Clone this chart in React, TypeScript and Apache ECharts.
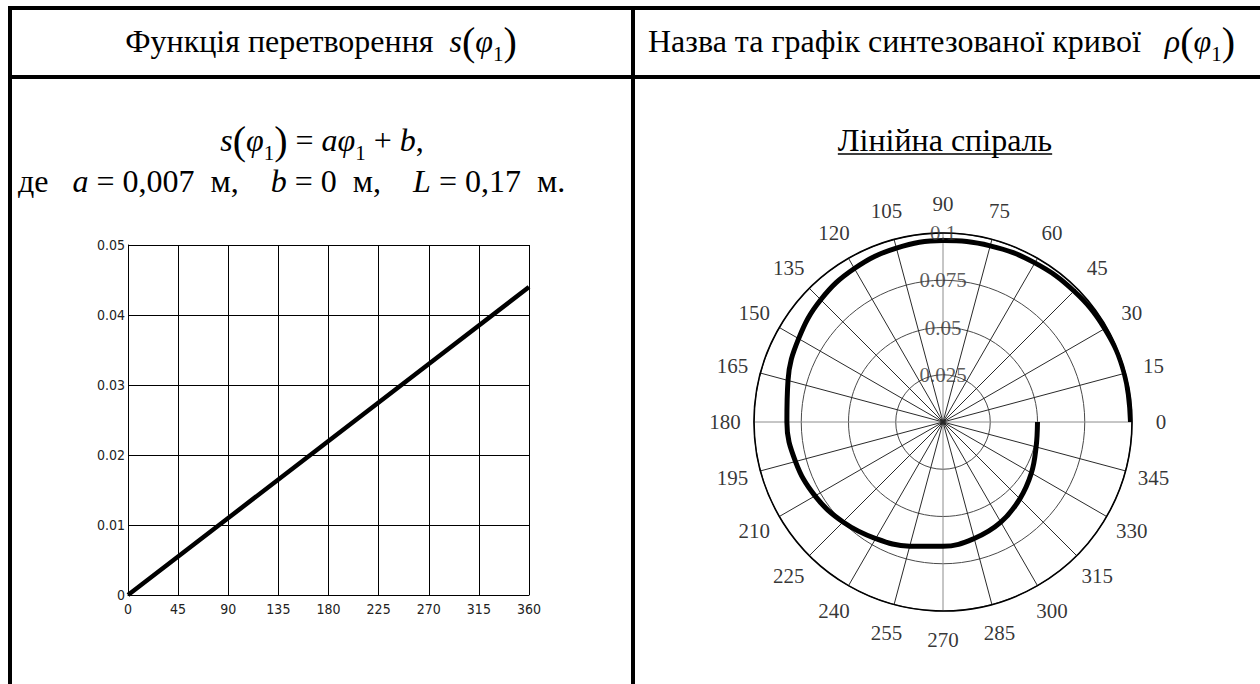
import React, { useEffect, useRef } from "react";
import * as echarts from "echarts";

// s(φ1) transfer function, angle in degrees vs displacement in metres
const sAngle = [0, 90, 180, 270, 360];
const sValue = [0, 0.011, 0.022, 0.033, 0.044];

// synthesized curve ρ(φ1): polar angle (deg) and radius (m), inner end first
const spiralAngle = [360, 345, 330, 315, 300, 285, 270, 255, 240, 225, 210, 195, 180, 165, 150, 135, 120, 105, 90, 75, 60, 45, 30, 15, 0];
const spiralRho = [0.05, 0.051, 0.054, 0.0575, 0.0612, 0.0638, 0.0658, 0.068, 0.0712, 0.0748, 0.0782, 0.0808, 0.0826, 0.0849, 0.0882, 0.0915, 0.0938, 0.0953, 0.096, 0.0965, 0.0972, 0.098, 0.0988, 0.0993, 0.0992];

// polar tick labels
const angleTicks = [0, 15, 30, 45, 60, 75, 90, 105, 120, 135, 150, 165, 180, 195, 210, 225, 240, 255, 270, 285, 300, 315, 330, 345];
const radiusTicks = [0.025, 0.05, 0.075, 0.1];

const SERIF = '"Liberation Serif", "Times New Roman", serif';
const SANS = '"DejaVu Sans Condensed", "Liberation Sans Narrow", "DejaVu Sans", sans-serif';

const POLAR_CENTER = [943, 422];
const POLAR_RADIUS = 189;
const RADIUS_MAX = 0.1;
// angle labels sit a little outside the rim
const ANGLE_LABEL_R = RADIUS_MAX * (218 / POLAR_RADIUS);

const TEXT_SIZE = 32;

const mathRich = (size: number, lh: number) => ({
  t: { fontFamily: SERIF, fontSize: size, lineHeight: lh, fill: "#000" },
  i: { fontFamily: SERIF, fontSize: size, fontStyle: "italic", lineHeight: lh, fill: "#000" },
  p: { fontFamily: SERIF, fontSize: Math.round(size * 1.25), lineHeight: lh, fill: "#000" },
  s: { fontFamily: SERIF, fontSize: Math.round(size * 0.66), lineHeight: Math.round(size * 0.66), verticalAlign: "bottom", fill: "#000" },
});

function textWidth(text: string, font: string) {
  const c = document.createElement("canvas").getContext("2d");
  if (!c) return text.length * 14;
  c.font = font;
  return c.measureText(text).width;
}

export default function App() {
  const ref = useRef<HTMLDivElement>(null);

  useEffect(() => {
    if (!ref.current) return;
    const chart = echarts.init(ref.current, null, { renderer: "svg" });

    const titleText = "Лінійна спіраль";
    const titleW = textWidth(titleText, `${TEXT_SIZE}px ${SERIF}`);
    const titleX = 945;
    const titleY = 140;

    const axisLabelStyle = { color: "#222", fontFamily: SANS, fontSize: 14 };
    const rich = mathRich(TEXT_SIZE, 46);

    chart.setOption({
      animation: false,
      backgroundColor: "#fff",
      grid: { left: 128, top: 245, width: 401, height: 350, containLabel: false },
      xAxis: {
        type: "value",
        min: 0,
        max: 360,
        interval: 45,
        axisLine: { show: true, onZero: false, lineStyle: { color: "#000", width: 1 } },
        axisTick: { show: false },
        axisLabel: { ...axisLabelStyle, margin: 7 },
        splitLine: { show: true, lineStyle: { color: "#000", width: 1 } },
      },
      yAxis: {
        type: "value",
        min: 0,
        max: 0.05,
        interval: 0.01,
        axisLine: { show: true, onZero: false, lineStyle: { color: "#000", width: 1 } },
        axisTick: { show: false },
        axisLabel: {
          ...axisLabelStyle,
          margin: 3,
          formatter: (v: number) => (v === 0 ? "0" : v.toFixed(2)),
        },
        splitLine: { show: true, lineStyle: { color: "#000", width: 1 } },
      },
      polar: { center: POLAR_CENTER, radius: POLAR_RADIUS },
      angleAxis: {
        type: "value",
        min: 0,
        max: 360,
        interval: 15,
        startAngle: 0,
        clockwise: false,
        axisLine: { show: true, lineStyle: { color: "#000", width: 1.6 } },
        axisTick: { show: false },
        axisLabel: { show: false },
        splitLine: {
          show: true,
          lineStyle: { color: ["#8c8c8c", "#2a2a2a", "#2a2a2a", "#2a2a2a", "#2a2a2a", "#2a2a2a"], width: 1 },
        },
      },
      radiusAxis: {
        type: "value",
        min: 0,
        max: RADIUS_MAX,
        interval: 0.025,
        axisLine: { show: false },
        axisTick: { show: false },
        axisLabel: { show: false },
        splitLine: { show: true, lineStyle: { color: "#4a4a4a", width: 1 } },
      },
      series: [
        {
          type: "line",
          data: sAngle.map((a, i) => [a, sValue[i]]),
          symbol: "none",
          lineStyle: { color: "#000", width: 4.5 },
          z: 3,
        },
        {
          type: "line",
          coordinateSystem: "polar",
          data: spiralAngle.map((a, i) => [spiralRho[i], a]),
          smooth: 0.4,
          symbol: "none",
          lineStyle: { color: "#000", width: 5 },
          z: 3,
        },
        {
          type: "scatter",
          coordinateSystem: "polar",
          clip: false,
          silent: true,
          symbolSize: 1,
          itemStyle: { color: "rgba(0,0,0,0)" },
          data: angleTicks.map((a) => [ANGLE_LABEL_R, a]),
          label: {
            show: true,
            position: "inside",
            formatter: (p: any) => String(p.value[1]),
            fontFamily: SERIF,
            fontSize: 21,
            color: "#000",
          },
          z: 4,
        },
        {
          type: "scatter",
          coordinateSystem: "polar",
          clip: false,
          silent: true,
          symbolSize: 1,
          itemStyle: { color: "rgba(0,0,0,0)" },
          data: radiusTicks.map((r) => [r, 90]),
          label: {
            show: true,
            position: "inside",
            formatter: (p: any) => String(p.value[0]),
            fontFamily: SERIF,
            fontSize: 21,
            color: "#333",
          },
          z: 4,
        },
      ],
      graphic: [
        // table rules
        { type: "rect", shape: { x: 8, y: 6, width: 1260, height: 4 }, style: { fill: "#000" } },
        { type: "rect", shape: { x: 8, y: 75, width: 1260, height: 4 }, style: { fill: "#000" } },
        { type: "rect", shape: { x: 8, y: 6, width: 4, height: 690 }, style: { fill: "#000" } },
        { type: "rect", shape: { x: 631, y: 6, width: 4, height: 690 }, style: { fill: "#000" } },
        // column headers
        {
          type: "text",
          x: 321,
          y: 41,
          style: {
            text: "{t|Функція перетворення  }{i|s}{p|(}{i|φ}{s|1}{p|)}",
            align: "center",
            verticalAlign: "middle",
            rich,
          },
        },
        {
          type: "text",
          x: 648,
          y: 41,
          style: {
            text: "{t|Назва та графік синтезованої кривої   }{i|ρ}{p|(}{i|φ}{s|1}{p|)}",
            align: "left",
            verticalAlign: "middle",
            rich,
          },
        },
        // formula
        {
          type: "text",
          x: 322,
          y: 140,
          style: {
            text: "{i|s}{p|(}{i|φ}{s|1}{p|)}{t| = }{i|aφ}{s|1}{t| + }{i|b}{t|,}",
            align: "center",
            verticalAlign: "middle",
            rich,
          },
        },
        {
          type: "text",
          x: 18,
          y: 181,
          style: {
            text: "{t|де   }{i|a}{t| = 0,007  м,    }{i|b}{t| = 0  м,    }{i|L}{t| = 0,17  м.}",
            align: "left",
            verticalAlign: "middle",
            rich,
          },
        },
        // curve name, underlined
        {
          type: "text",
          x: titleX,
          y: titleY,
          style: {
            text: titleText,
            align: "center",
            verticalAlign: "middle",
            fontFamily: SERIF,
            fontSize: TEXT_SIZE,
            fill: "#000",
          },
        },
        {
          type: "line",
          shape: { x1: titleX - titleW / 2, y1: titleY + 14, x2: titleX + titleW / 2, y2: titleY + 14 },
          style: { stroke: "#000", lineWidth: 1.5 },
        },
      ],
    });

    return () => chart.dispose();
  }, []);

  return (
    <div
      ref={ref}
      style={{ position: "fixed", left: 0, top: 0, width: 1260, height: 684, background: "#fff" }}
    />
  );
}
